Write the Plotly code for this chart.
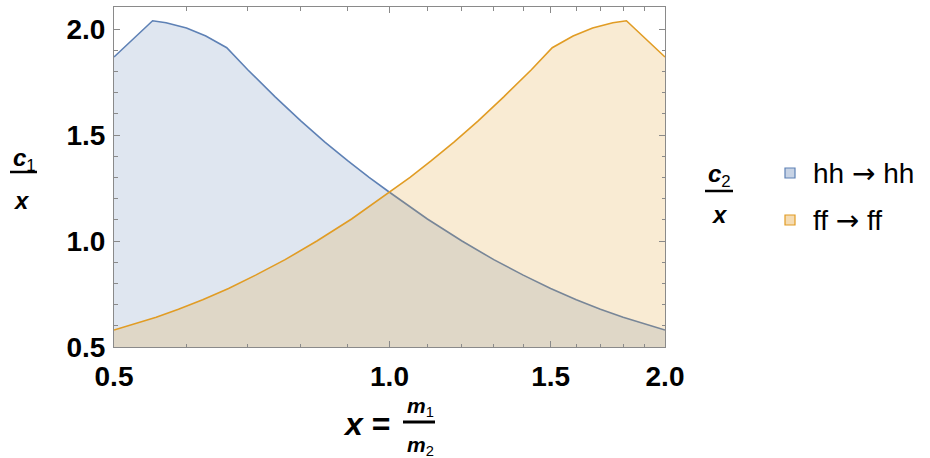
import plotly.graph_objects as go

# ---- data ----
hh_x = [0.5, 0.551, 0.57, 0.6, 0.63, 0.664, 0.7, 0.75, 0.8, 0.85, 0.9, 0.95, 1.0,
        1.1, 1.2, 1.3, 1.4, 1.5, 1.6, 1.7, 1.8, 1.9, 2.0]
hh_y = [1.868, 2.039, 2.030, 2.005, 1.967, 1.912, 1.808, 1.680, 1.567, 1.467, 1.379, 1.300, 1.230,
        1.104, 1.000, 0.912, 0.839, 0.776, 0.723, 0.678, 0.640, 0.608, 0.580]

ff_x = [0.5, 0.526, 0.556, 0.588, 0.625, 0.667, 0.714, 0.769, 0.833, 0.909, 1.0,
        1.053, 1.111, 1.176, 1.25, 1.333, 1.429, 1.506, 1.587, 1.667, 1.754, 1.815, 2.0]
ff_y = [0.580, 0.608, 0.640, 0.678, 0.723, 0.776, 0.839, 0.912, 1.000, 1.104, 1.230,
        1.300, 1.379, 1.467, 1.567, 1.680, 1.808, 1.912, 1.967, 2.005, 2.030, 2.039, 1.868]

x_ticks = [0.5, 1.0, 1.5, 2.0]
x_ticktext = ["0.5", "1.0", "1.5", "2.0"]
x_minor = [0.6, 0.7, 0.8, 0.9, 1.1, 1.2, 1.3, 1.4, 1.6, 1.7, 1.8, 1.9]
y_ticks = [0.5, 1.0, 1.5, 2.0]
y_ticktext = ["0.5", "1.0", "1.5", "2.0"]

legend_labels = ["hh → hh", "ff → ff"]

BLUE = "#5E81B5"
ORANGE = "#E19C24"
BLUE_FILL = "rgba(94,129,181,0.2)"
ORANGE_FILL = "rgba(225,156,36,0.2)"
FONT = "Liberation Sans, Arial, sans-serif"
FRAME = "#8a8a8a"

W, H = 930, 458
L, R, T, B = 114, 665, 7, 347


def px(x):
    return (x - L) / (R - L)


def py(y):
    return (B - y) / (B - T)


fig = go.Figure()
fig.add_trace(go.Scatter(x=hh_x, y=hh_y, mode="lines", fill="tozeroy",
                         line=dict(color=BLUE, width=1.6), fillcolor=BLUE_FILL,
                         name=legend_labels[0], showlegend=False, hoverinfo="skip"))
fig.add_trace(go.Scatter(x=ff_x, y=ff_y, mode="lines", fill="tozeroy",
                         line=dict(color=ORANGE, width=1.6), fillcolor=ORANGE_FILL,
                         name=legend_labels[1], showlegend=False, hoverinfo="skip"))

axis_common = dict(
    showline=True, linecolor=FRAME, linewidth=1, mirror="ticks",
    ticks="inside", ticklen=6, tickwidth=1, tickcolor=FRAME,
    showgrid=False, zeroline=False, automargin=False,
    tickfont=dict(family=FONT, size=28, color="black", weight="bold"),
)

fig.update_xaxes(type="log", range=[-0.30103, 0.30103],
                 tickmode="array", tickvals=x_ticks, ticktext=x_ticktext,
                 minor=dict(tickmode="array", tickvals=x_minor, ticks="inside",
                            ticklen=3.5, tickcolor=FRAME, showgrid=False),
                 ticklabelstandoff=4,
                 **axis_common)
fig.update_yaxes(range=[0.5, 2.104],
                 tickmode="array", tickvals=y_ticks, ticktext=y_ticktext,
                 minor=dict(dtick=0.1, ticks="inside", ticklen=3.5,
                            tickcolor=FRAME, showgrid=False),
                 ticklabelstandoff=2,
                 **axis_common)

annotations = []
shapes = []


def txt(text, x, y, size, xanchor="center"):
    annotations.append(dict(text=text, x=px(x), y=py(y), xref="paper", yref="paper",
                            xanchor=xanchor, yanchor="middle", showarrow=False,
                            borderpad=0,
                            font=dict(family=FONT, size=size, color="black")))


def hline(x0, x1, y, width=2.5):
    shapes.append(dict(type="line", xref="paper", yref="paper",
                       x0=px(x0), x1=px(x1), y0=py(y), y1=py(y),
                       line=dict(color="black", width=width)))


# y-axis label c1 / x
txt("<b><i>c</i></b><sub>1</sub>", 24, 159, 24)
hline(10, 37, 172)
txt("<b><i>x</i></b>", 21, 200, 24)

# second label c2 / x
txt("<b><i>c</i></b><sub>2</sub>", 719, 175, 24)
hline(705, 733, 191)
txt("<b><i>x</i></b>", 719, 214, 24)

# x-axis label x = m1 / m2
txt("<b><i>x</i> =</b>", 366, 424, 32)
txt("<b><i>m</i></b><sub>1</sub>", 420, 407, 21)
hline(403, 435, 422, 3)
txt("<b><i>m</i></b><sub>2</sub>", 420, 446, 21)


def arrow_label(s):
    return s.replace("→", '<span style="font-family:DejaVu Sans">→</span>')


# legend
for lab, col, fillc, yc in [(legend_labels[0], BLUE, BLUE_FILL, 173),
                             (legend_labels[1], ORANGE, ORANGE_FILL, 220)]:
    shapes.append(dict(type="rect", xref="paper", yref="paper",
                       x0=px(785), x1=px(795), y0=py(yc + 5), y1=py(yc - 5),
                       line=dict(color=col, width=1.2),
                       fillcolor=fillc.replace("0.2)", "0.35)")))
    txt(arrow_label(lab), 812, yc, 28, xanchor="left")

fig.update_layout(
    width=W, height=H,
    margin=dict(l=L, r=W - R, t=T, b=H - B),
    paper_bgcolor="white", plot_bgcolor="white",
    showlegend=False,
    annotations=annotations, shapes=shapes,
)

fig.write_html("out.html", config={"displayModeBar": False},
               post_script="document.body.style.margin='0';document.body.style.overflow='hidden';")
